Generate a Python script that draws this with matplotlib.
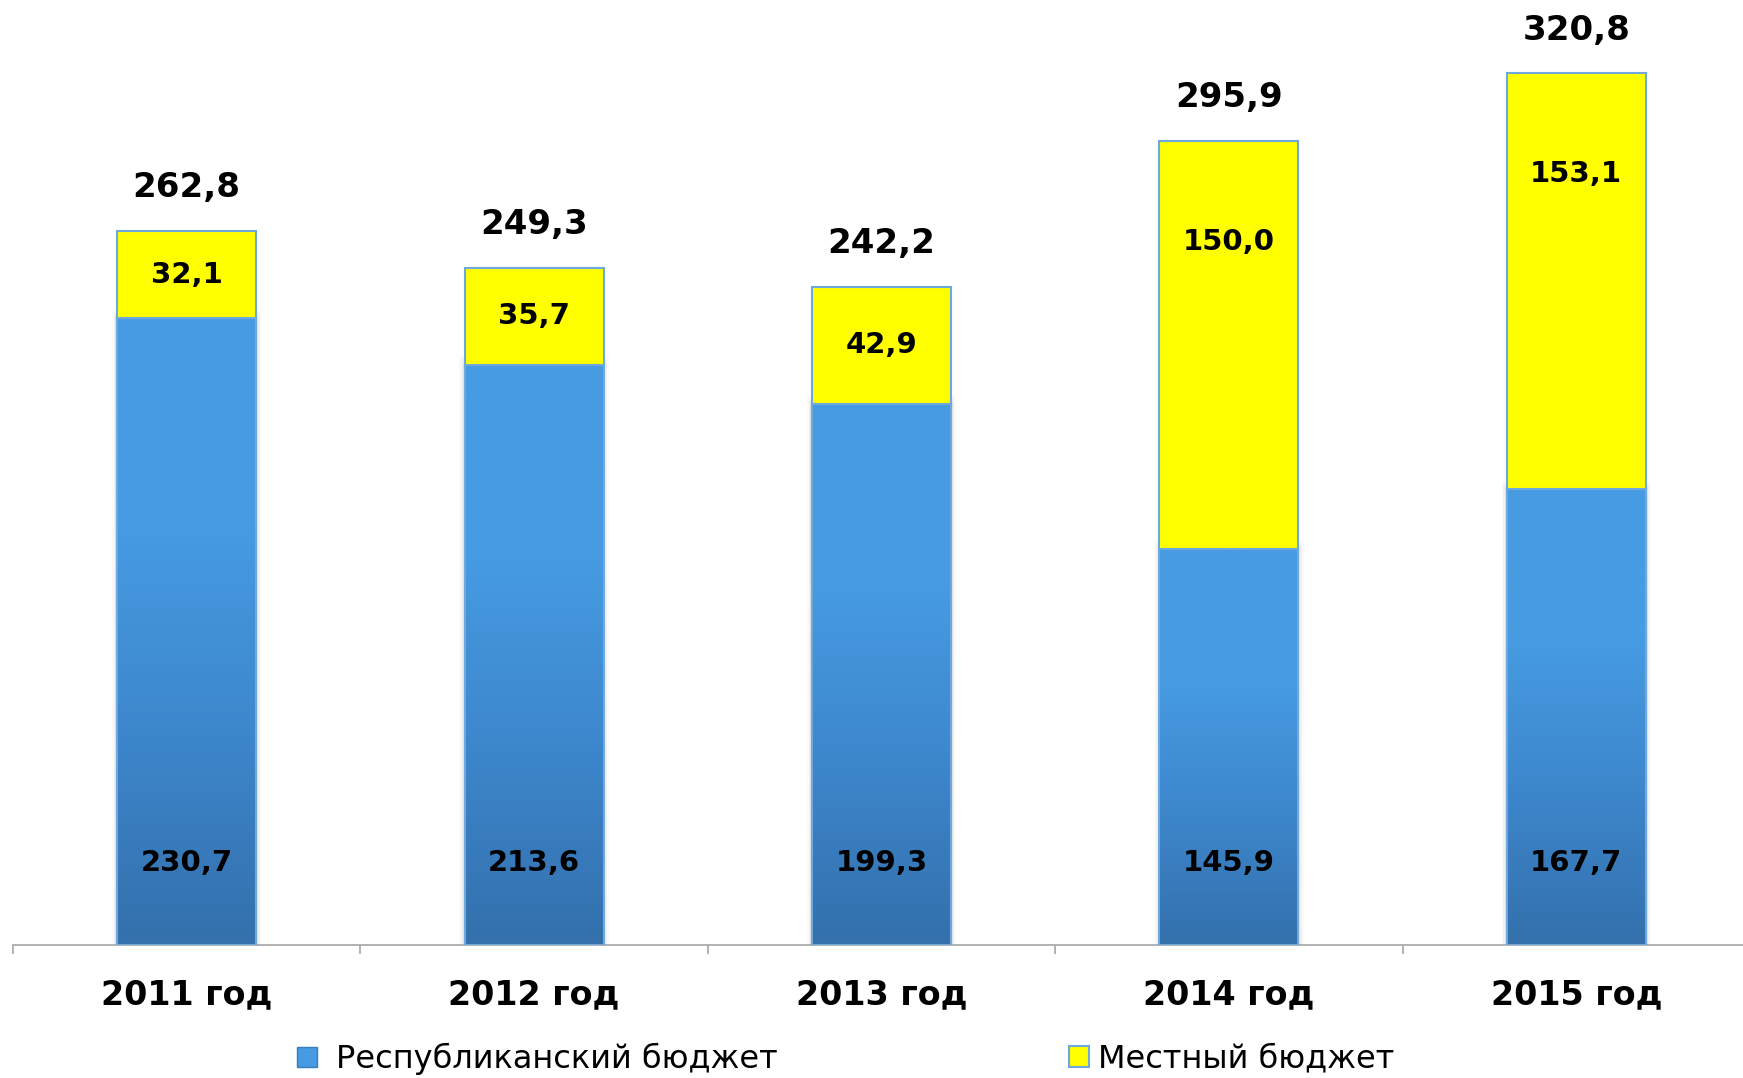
import numpy as np
import matplotlib
matplotlib.use("Agg")
import matplotlib.pyplot as plt
from matplotlib.colors import LinearSegmentedColormap
from matplotlib.patches import Patch

categories = ["2011 год", "2012 год", "2013 год", "2014 год", "2015 год"]
republican = [230.7, 213.6, 199.3, 145.9, 167.7]
local = [32.1, 35.7, 42.9, 150.0, 153.1]
totals = [262.8, 249.3, 242.2, 295.9, 320.8]
series_names = ["Республиканский бюджет", "Местный бюджет"]

def fmt(v):
    return f"{v:.1f}".replace(".", ",")

W, H = 1743, 1078
fig = plt.figure(figsize=(W / 100, H / 100), dpi=100)
ax = fig.add_axes([13 / W, (H - 945) / H, 1737 / W, 945 / H])

x = np.arange(len(categories))
bw = 0.40
ymax = 945 / 2.717

blue_top = "#469BE2"
blue_bot = "#3370AC"
cmap = LinearSegmentedColormap.from_list("bl", [blue_bot, "#3D86CC", blue_top, blue_top])
edge = "#6FA8DC"

grad = np.linspace(0, 1, 256).reshape(-1, 1)
for xi, r in zip(x, republican):
    # soft shadow
    for k, a in enumerate([0.05, 0.035, 0.02]):
        d = 0.005 * (k + 1)
        ax.add_patch(plt.Rectangle((xi - bw / 2 - d, -0.5), bw + 2 * d, r + 1.2 * (k + 1),
                                   facecolor="black", alpha=a, edgecolor="none", zorder=1))
    ax.imshow(grad, extent=(xi - bw / 2, xi + bw / 2, 0, r), origin="lower",
              aspect="auto", cmap=cmap, zorder=2)
ax.bar(x, republican, bw, facecolor="none", edgecolor=edge, linewidth=1.5, zorder=3)
ax.bar(x, local, bw, bottom=republican, facecolor="#FFFF00", edgecolor=edge, linewidth=1.5, zorder=3)

for xi, r, l, t in zip(x, republican, local, totals):
    ax.text(xi, 30, fmt(r), ha="center", va="center", fontsize=21, fontweight="bold", zorder=5)
    ax.text(xi, t - min(l / 2, 37), fmt(l), ha="center", va="center", fontsize=21,
            fontweight="bold", zorder=5)
    ax.annotate(fmt(t), (xi, t), xytext=(0, 31), textcoords="offset points",
                ha="center", va="center", fontsize=24.5, fontweight="bold")

ax.set_xlim(-0.5, len(categories) - 0.5)
ax.set_ylim(0, ymax)
ax.set_xticks(x)
ax.set_xticklabels(categories, fontsize=24, fontweight="bold")
ax.set_xticks(np.arange(-0.5, len(categories), 1.0), minor=True)
ax.tick_params(axis="x", which="major", length=0, pad=24)
ax.tick_params(axis="x", which="minor", length=6.5, width=1.2, color="#A6A6A6", direction="out")
ax.set_yticks([])
for s in ["top", "right", "left"]:
    ax.spines[s].set_visible(False)
ax.spines["bottom"].set_color("#A6A6A6")
ax.spines["bottom"].set_linewidth(1.2)
ax.set_facecolor("none")

h1 = Patch(facecolor=blue_top, edgecolor="#3A7CC0", linewidth=1)
h2 = Patch(facecolor="#FFFF00", edgecolor=edge, linewidth=1.5)
fig.legend([h1], [series_names[0]], loc="center left", bbox_to_anchor=(297 / W, 1 - 1059 / H),
           frameon=False, fontsize=23, handlelength=0.62, handleheight=0.62, handletextpad=0.6,
           borderpad=0, borderaxespad=0)
fig.legend([h2], [series_names[1]], loc="center left", bbox_to_anchor=(1069 / W, 1 - 1059 / H),
           frameon=False, fontsize=23, handlelength=0.62, handleheight=0.62, handletextpad=0.3,
           borderpad=0, borderaxespad=0)

fig.savefig("out.png", dpi=100)
